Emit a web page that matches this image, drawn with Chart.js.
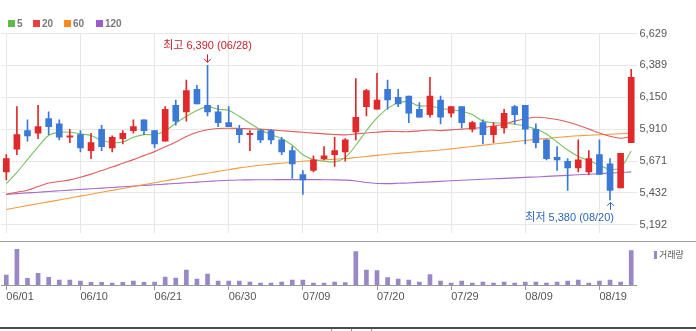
<!DOCTYPE html>
<html lang="ko">
<head>
<meta charset="utf-8">
<script src="https://cdn.jsdelivr.net/npm/chart.js@4.4.1/dist/chart.umd.min.js"></script>
<style>
  html, body { margin: 0; padding: 0; background: #fff; }
  body { position: relative; width: 696px; height: 331px; overflow: hidden;
         font-family: 'Liberation Sans', 'Noto Sans CJK KR', sans-serif; }
  canvas { position: absolute; left: 0; }
  #price { top: 0; }
  #volume { top: 243px; }
  .ma-key { position: absolute; top: 17px; height: 13px; line-height: 13px;
            font-size: 10px; font-weight: bold; color: #7a7a7a; white-space: nowrap; }
  .ma-key i { position: absolute; left: 0; top: 3px; width: 7px; height: 7px; }
  .ma-key span { position: absolute; left: 9px; top: 0; }
  #volKey { position: absolute; left: 654px; top: 248px; height: 13px; line-height: 13px;
            font-size: 9px; color: #555; font-family: 'Noto Sans CJK KR', sans-serif; white-space: nowrap; }
  #volKey i { position: absolute; left: 0; top: 3px; width: 3px; height: 8px; background: #9a88c6; }
  #volKey span { position: absolute; left: 5px; top: 0; }
  #priceBase { position: absolute; left: 0; top: 241px; width: 696px; height: 1px; background: #a0a0a0; }
  #footLine { position: absolute; left: 0; top: 327px; width: 696px; height: 2px; background: #4c4c4c; }
  #thumb { position: absolute; left: 331px; top: 329px; width: 39px; height: 2px;
           border-left: 1px solid #999; border-right: 1px solid #999; }
  #thumb b { position: absolute; left: 19px; top: 0; width: 1px; height: 2px; background: #999; }
</style>
</head>
<body>
<canvas id="price" width="696" height="243"></canvas>
<canvas id="volume" width="696" height="57"></canvas>
<div id="priceBase"></div>
<div id="maKeys"></div>
<div id="volKey"><i></i><span>거래량</span></div>
<div id="footLine"></div>
<div id="thumb"><b></b></div>

<script>
// Trading days, 2021-06-01 .. 2021-08-24
const dates = [
  '06/01','06/02','06/03','06/04','06/07','06/08','06/09','06/10','06/11','06/14',
  '06/15','06/16','06/17','06/18','06/21','06/22','06/23','06/24','06/25','06/28',
  '06/29','06/30','07/01','07/02','07/05','07/06','07/07','07/08','07/09','07/12',
  '07/13','07/14','07/15','07/16','07/19','07/20','07/21','07/22','07/23','07/26',
  '07/27','07/28','07/29','07/30','08/02','08/03','08/04','08/05','08/06','08/09',
  '08/10','08/11','08/12','08/13','08/17','08/18','08/19','08/20','08/23','08/24'
];

// Daily prices (KRW)
const openPrices = [
  5590,5760,5900,5880,5990,5950,5850,5870,5750,5910,
  5770,5840,5900,5980,5900,5820,6090,6040,6210,6090,
  6040,5960,5910,5870,5900,5900,5830,5750,5570,5600,
  5690,5720,5740,5890,6080,6060,6210,6150,6160,6060,
  6020,6130,6030,6080,5910,5960,5870,5920,6080,6090,
  5910,5830,5700,5670,5620,5590,5720,5650,5470,5810
];
const highPrices = [
  5720,6080,5980,6090,6040,5980,5910,5900,5880,5940,
  5860,5900,5980,5980,5900,6080,6130,6280,6240,6390,
  6090,6080,5940,5900,5910,5910,5850,5780,5600,5710,
  5780,5850,5840,6290,6210,6330,6280,6210,6160,6110,
  6300,6160,6080,6080,5970,5980,5960,6060,6090,6090,
  5950,5830,5780,5690,5830,5750,5830,5690,5730,6360
];
const lowPrices = [
  5530,5720,5820,5840,5870,5830,5810,5740,5690,5750,
  5740,5800,5880,5870,5770,5820,5940,5970,6100,6010,
  5930,5930,5810,5750,5810,5800,5720,5540,5420,5590,
  5680,5630,5670,5830,6010,6060,6060,6080,5960,6000,
  6000,5950,6000,5920,5890,5800,5810,5880,5950,5800,
  5770,5680,5600,5450,5590,5570,5570,5380,5470,5810
];
const closePrices = [
  5690,5870,5860,5930,5930,5850,5860,5770,5810,5780,
  5850,5880,5930,5900,5800,6060,5970,6200,6100,6040,
  5960,5930,5870,5880,5830,5830,5740,5650,5530,5680,
  5710,5750,5830,6000,6200,6130,6130,6100,6030,6000,
  6160,6000,6080,5960,5960,5870,5930,6030,6020,5910,
  5810,5690,5680,5620,5680,5690,5570,5450,5730,6300
];

// Moving averages (5 / 20 / 60 / 120 days)
const ma5 = [
  5501,5586,5682,5778,5863,5887,5887,5875,5863,5827,
  5810,5814,5850,5870,5870,5899,5955,6007,6051,6080,
  6060,6051,6007,5955,5906,5870,5839,5790,5718,5682,
  5670,5665,5699,5790,5899,5995,6067,6109,6116,6085,
  6085,6067,6056,6044,6020,5971,5959,5955,5947,5935,
  5911,5875,5814,5754,5706,5675,5641,5609,5622,5747
];
const ma20 = [
  5421,5437,5452,5480,5506,5518,5530,5550,5573,5600,
  5626,5654,5682,5712,5742,5778,5814,5855,5887,5906,
  5916,5918,5916,5913,5911,5905,5899,5893,5887,5881,
  5875,5871,5868,5875,5882,5888,5894,5893,5892,5898,
  5904,5900,5905,5911,5917,5923,5935,5947,5971,5988,
  6000,5995,5983,5964,5940,5911,5882,5858,5843,5855
];
const ma60 = [
  5308,5322,5337,5351,5365,5379,5394,5408,5422,5437,
  5451,5465,5480,5494,5508,5523,5537,5551,5566,5580,
  5594,5606,5620,5630,5640,5648,5655,5662,5670,5675,
  5680,5685,5690,5698,5706,5714,5722,5729,5736,5742,
  5748,5754,5763,5772,5781,5790,5799,5808,5817,5826,
  5834,5841,5848,5855,5861,5865,5869,5872,5876,5880
];
const ma120 = [
  5421,5427,5432,5437,5443,5448,5453,5458,5463,5468,
  5473,5478,5483,5488,5493,5498,5503,5508,5513,5518,
  5523,5527,5529,5530,5531,5531,5532,5532,5532,5532,
  5531,5530,5528,5522,5510,5503,5502,5504,5507,5511,
  5515,5519,5523,5527,5531,5535,5538,5541,5545,5549,
  5552,5556,5560,5564,5568,5572,5577,5581,5585,5590
];

// Daily volume (thousand shares)
const volumes = [
  100,360,67,117,77,50,50,40,27,27,
  20,27,40,27,30,80,70,150,60,110,
  40,40,40,30,20,20,30,50,50,20,
  20,30,23,333,150,143,73,60,50,30,
  103,40,20,40,20,30,20,30,20,30,
  30,20,30,40,50,20,40,50,30,343
];

// Axis ticks
const xTickLabels = ['06/01','06/10','06/21','06/30','07/09','07/20','07/29','08/09','08/19'];
const yTickValues = [5192, 5431.5, 5671, 5910.5, 6150, 6389.5, 6629];
const yTickLabels = ['5,192','5,432','5,671','5,910','6,150','6,389','6,629'];
const yMin = 5128, yMax = 6629;

// Moving-average legend entries
const maNames = ['5', '20', '60', '120'];

const UP = '#e0292b', DOWN = '#3b79d6';
const maLineColors = ['#79c25f', '#e25d5d', '#f39b3e', '#a66bcf'];
const maKeyColors  = ['#5fba46', '#e5413d', '#f7891f', '#9d5cc9'];
const maKeyLeft = [8, 33, 64, 96];
const FONT = "'Liberation Sans', 'Noto Sans CJK KR', sans-serif";

// legend row
const keys = document.getElementById('maKeys');
maNames.forEach((n, i) => {
  const d = document.createElement('div');
  d.className = 'ma-key';
  d.style.left = maKeyLeft[i] + 'px';
  d.innerHTML = '<i style="background:' + maKeyColors[i] + '"></i><span>' + n + '</span>';
  keys.appendChild(d);
});

const candleColors = closePrices.map((c, i) => (c >= openPrices[i] ? UP : DOWN));
const keepDateTicks = s => { s.ticks = s.ticks.filter(t => xTickLabels.includes(dates[t.value])); };
const fmt = v => v.toLocaleString('en-US');

// period high / low markers
const hiVal = Math.max(...highPrices), hiIdx = highPrices.indexOf(hiVal);
const loVal = Math.min(...lowPrices),  loIdx = lowPrices.indexOf(loVal);

const extremeMarks = {
  id: 'extremeMarks',
  afterDatasetsDraw(chart) {
    const { ctx, scales: { x, y } } = chart;
    ctx.save();
    ctx.lineWidth = 1;
    ctx.font = '11px ' + FONT;
    ctx.textBaseline = 'middle';

    let px = Math.round(x.getPixelForValue(hiIdx) - 0.5) + 0.5;
    let py = y.getPixelForValue(hiVal);
    ctx.strokeStyle = ctx.fillStyle = '#c8202a';
    ctx.beginPath();
    ctx.moveTo(px, py - 11); ctx.lineTo(px, py - 3);
    ctx.moveTo(px - 3.5, py - 6.5); ctx.lineTo(px, py - 3); ctx.lineTo(px + 3.5, py - 6.5);
    ctx.stroke();
    ctx.textAlign = 'center';
    ctx.fillText('최고 ' + fmt(hiVal) + ' (' + dates[hiIdx] + ')', px, py - 19);

    px = Math.round(x.getPixelForValue(loIdx) - 0.5) + 0.5;
    py = y.getPixelForValue(loVal);
    ctx.strokeStyle = ctx.fillStyle = '#2c66b4';
    ctx.beginPath();
    ctx.moveTo(px, py + 10); ctx.lineTo(px, py + 2.5);
    ctx.moveTo(px - 3.5, py + 6); ctx.lineTo(px, py + 2.5); ctx.lineTo(px + 3.5, py + 6);
    ctx.stroke();
    ctx.textAlign = 'right';
    ctx.fillText('최저 ' + fmt(loVal) + ' (' + dates[loIdx] + ')', px + 3.5, py + 18.5);
    ctx.restore();
  }
};

const maLine = (label, data, color) => ({
  type: 'line', label, data, borderColor: color, borderWidth: 1.1,
  pointRadius: 0, tension: 0.35, fill: false, order: 2
});

new Chart(document.getElementById('price'), {
  type: 'bar',
  data: {
    labels: dates,
    datasets: [
      maLine('5', ma5, maLineColors[0]),
      maLine('20', ma20, maLineColors[1]),
      maLine('60', ma60, maLineColors[2]),
      maLine('120', ma120, maLineColors[3]),
      { label: 'range', data: lowPrices.map((l, i) => [l, highPrices[i]]),
        backgroundColor: candleColors, barThickness: 1, grouped: false, order: 1 },
      { label: 'body', data: openPrices.map((o, i) => [o, closePrices[i]]),
        backgroundColor: candleColors, barThickness: 6, minBarLength: 1, grouped: false, order: 0 }
    ]
  },
  options: {
    responsive: false, animation: false, devicePixelRatio: 1,
    layout: { padding: { left: 1, right: 0, top: 33.5, bottom: 1.5 } },
    plugins: { legend: { display: false }, tooltip: { enabled: false } },
    scales: {
      x: {
        offset: true,
        grid: { offset: false, color: '#e6e6e6', drawTicks: false },
        border: { display: false },
        ticks: { display: false, autoSkip: false },
        afterBuildTicks: keepDateTicks,
        afterFit: s => { s.height = 0; }
      },
      y: {
        position: 'right', min: yMin, max: yMax,
        grid: { color: '#e8e8e8', drawTicks: false },
        border: { display: false },
        afterBuildTicks: s => { s.ticks = yTickValues.map(v => ({ value: v })); },
        ticks: { padding: 3, color: '#555', font: { size: 11, family: FONT },
                 callback: (v, i) => yTickLabels[i] },
        afterFit: s => { s.width = 59.5; }
      }
    }
  },
  plugins: [extremeMarks]
});

new Chart(document.getElementById('volume'), {
  type: 'bar',
  data: {
    labels: dates,
    datasets: [{ label: '거래량', data: volumes, backgroundColor: '#9a88c6', barThickness: 4 }]
  },
  options: {
    responsive: false, animation: false, devicePixelRatio: 1,
    layout: { padding: { left: 1, right: 59.5, top: 6, bottom: 0 } },
    plugins: { legend: { display: false }, tooltip: { enabled: false } },
    scales: {
      x: {
        offset: true,
        grid: { offset: false, drawOnChartArea: false, drawTicks: true, tickLength: 5, tickColor: '#999' },
        border: { display: true, color: '#999' },
        ticks: { align: 'start', padding: 0, color: '#555', autoSkip: false, maxRotation: 0,
                 font: { size: 11, family: FONT } },
        afterBuildTicks: keepDateTicks,
        afterFit: s => { s.height = 15; }
      },
      y: { display: false, min: 0, max: Math.max(...volumes) }
    }
  }
});
</script>
</body>
</html>
